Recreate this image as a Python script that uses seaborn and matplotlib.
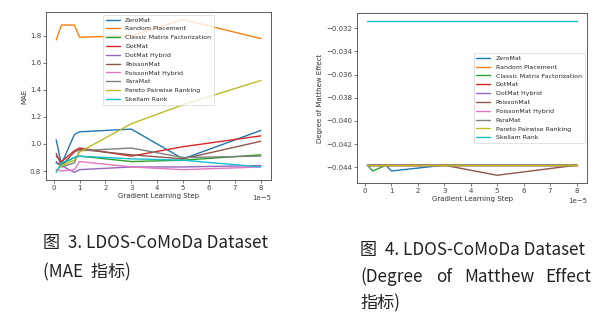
import numpy as np
import pandas as pd
import matplotlib
matplotlib.use("Agg")
import matplotlib.pyplot as plt
import seaborn as sns

steps = [0.1e-5, 0.3e-5, 0.8e-5, 1.0e-5, 3.0e-5, 5.0e-5, 8.0e-5]
methods = ["ZeroMat", "Random Placement", "Classic Matrix Factorization", "DotMat",
           "DotMat Hybrid", "PoissonMat", "PoissonMat Hybrid", "ParaMat",
           "Pareto Pairwise Ranking", "Skellam Rank"]

mae_zeromat = [1.03, 0.85, 1.07, 1.09, 1.11, 0.89, 1.10]
mae_random = [1.77, 1.88, 1.88, 1.79, 1.80, 1.92, 1.78]
mae_cmf = [0.86, 0.85, 0.90, 0.91, 0.87, 0.88, 0.92]
mae_dotmat = [0.91, 0.87, 0.95, 0.97, 0.91, 0.98, 1.06]
mae_dotmat_h = [0.86, 0.84, 0.79, 0.81, 0.83, 0.83, 0.84]
mae_poisson = [0.93, 0.84, 0.94, 0.96, 0.92, 0.89, 1.02]
mae_poisson_h = [0.81, 0.80, 0.81, 0.87, 0.83, 0.81, 0.83]
mae_paramat = [0.87, 0.83, 0.86, 0.95, 0.97, 0.90, 0.91]
mae_pareto = [0.80, 0.84, 0.88, 0.94, 1.15, 1.29, 1.47]
mae_skellam = [0.79, 0.86, 0.90, 0.91, 0.89, 0.88, 0.83]

dme_zeromat = [-0.04382, -0.04382, -0.04382, -0.04432, -0.04382, -0.04382, -0.04382]
dme_random = [-0.04382] * 7
dme_cmf = [-0.04382, -0.04432, -0.04382, -0.04382, -0.04382, -0.04382, -0.04382]
dme_dotmat = [-0.04382] * 7
dme_dotmat_h = [-0.04382] * 7
dme_poisson = [-0.04382, -0.04382, -0.04382, -0.04382, -0.04382, -0.04469, -0.04382]
dme_poisson_h = [-0.04382] * 7
dme_paramat = [-0.04382] * 7
dme_pareto = [-0.04382] * 7
dme_skellam = [-0.03135] * 7

mae = [mae_zeromat, mae_random, mae_cmf, mae_dotmat, mae_dotmat_h, mae_poisson,
       mae_poisson_h, mae_paramat, mae_pareto, mae_skellam]
dme = [dme_zeromat, dme_random, dme_cmf, dme_dotmat, dme_dotmat_h, dme_poisson,
       dme_poisson_h, dme_paramat, dme_pareto, dme_skellam]


def frame(vals):
    rows = []
    for m, v in zip(methods, vals):
        for x, y in zip(steps, v):
            rows.append((m, x, y))
    return pd.DataFrame(rows, columns=["method", "step", "value"])


sns.set_style("ticks")
plt.rcParams["font.family"] = ["DejaVu Sans"]
fs = 5.0
lfs = 4.5
plt.rcParams.update({"xtick.labelsize": fs, "ytick.labelsize": fs, "axes.labelsize": fs,
                     "axes.edgecolor": "#444444", "axes.linewidth": 0.6,
                     "xtick.major.width": 0.5, "ytick.major.width": 0.5,
                     "xtick.major.size": 2.0, "ytick.major.size": 2.0,
                     "xtick.major.pad": 1.5, "ytick.major.pad": 1.5,
                     "xtick.color": "#444444", "ytick.color": "#444444",
                     "axes.labelcolor": "#333333"})

fig = plt.figure(figsize=(6.04, 3.26), dpi=100)
W, H = 604, 326
ax1 = fig.add_axes([46 / W, 1 - 180 / H, 225 / W, 168 / H])
ax2 = fig.add_axes([357 / W, 1 - 183 / H, 230 / W, 170 / H])

pal = sns.color_palette("tab10", 10)

for ax, vals, ylabel, loc in [(ax1, mae, "MAE", "upper center"),
                               (ax2, dme, "Degree of Matthew Effect", "center right")]:
    sns.lineplot(data=frame(vals), x="step", y="value", hue="method", hue_order=methods,
                 palette=pal, ax=ax, linewidth=1.0, estimator=None)
    ax.set_xlabel("Gradient Learning Step", labelpad=1.5)
    ax.set_ylabel(ylabel, labelpad=2)
    ax.xaxis.get_offset_text().set_fontsize(fs)
    ax.xaxis.get_offset_text().set_color("#444444")
    leg = ax.legend(loc=loc, fontsize=lfs, frameon=True, handlelength=2.2,
                    labelspacing=0.55, borderpad=0.45, handletextpad=0.9,
                    borderaxespad=0.4)
    leg.get_frame().set_linewidth(0.5)
    leg.get_frame().set_edgecolor("#cccccc")
    for l in leg.get_lines():
        l.set_linewidth(1.0)

ax1.set_yticks([0.8, 1.0, 1.2, 1.4, 1.6, 1.8])
ax2.set_yticks([-0.032, -0.034, -0.036, -0.038, -0.040, -0.042, -0.044])
ax2.set_yticklabels(["\u22120.032", "\u22120.034", "\u22120.036", "\u22120.038",
                     "\u22120.040", "\u22120.042", "\u22120.044"])

cjk = ["Noto Sans CJK SC", "DejaVu Sans"]
cfs = 12.3
ccol = "#222222"


def cap(x, y, s, ha="left"):
    fig.text(x / W, 1 - y / H, s, family=cjk, fontsize=cfs, color=ccol,
             va="center", ha=ha)


cap(43, 243, "图  3. LDOS-CoMoDa Dataset")
cap(43, 272, "(MAE  指标)")
cap(360, 250, "图  4. LDOS-CoMoDa Dataset")
cap(360, 277, "(Degree")
cap(436, 277, "of")
cap(464, 277, "Matthew")
cap(591, 277, "Effect", ha="right")
cap(360, 303, "指标)")

fig.savefig("out.png", dpi=100)
